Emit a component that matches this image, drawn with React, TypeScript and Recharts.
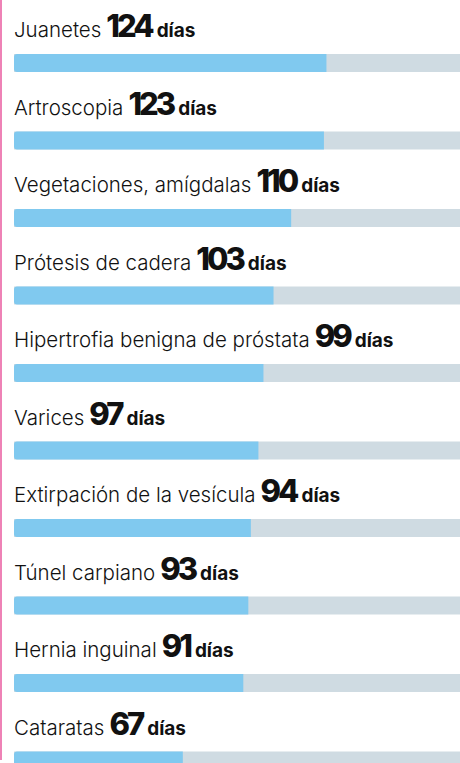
import React from 'react';
import { BarChart, Bar, XAxis, YAxis, LabelList } from 'recharts';

const categories = [
  'Juanetes',
  'Artroscopia',
  'Vegetaciones, amígdalas',
  'Prótesis de cadera',
  'Hipertrofia benigna de próstata',
  'Varices',
  'Extirpación de la vesícula',
  'Túnel carpiano',
  'Hernia inguinal',
  'Cataratas',
];

const days = [124, 123, 110, 103, 99, 97, 94, 93, 91, 67];

const unitLabel = 'días';

const data = categories.map((name, i) => ({ name, days: days[i] }));

const FONT = 'Inter, "Noto Sans", sans-serif';

const RowLabel = (props: any) => {
  const { x, y, index } = props;
  return (
    <text x={x} y={y - 17} fontFamily={FONT} fill="#111">
      <tspan fontSize={20.5} fontWeight={300}>{categories[index]}</tspan>
      <tspan dx={5} fontSize={31} fontWeight={800} letterSpacing={-3}>
        {days[index]}
      </tspan>
      <tspan dx={5} fontSize={19} fontWeight={700}>{unitLabel}</tspan>
    </text>
  );
};

const App: React.FC = () => {
  return (
    <div style={{ position: 'absolute', left: 0, top: 0, width: 460, height: 763, overflow: 'hidden', background: '#fff' }}>
      <div style={{ position: 'absolute', left: 0, top: 0, width: 2, height: 760, background: '#ee82b6' }} />
      <BarChart
        width={460}
        height={800}
        data={data}
        layout="vertical"
        margin={{ top: 24, right: 0, left: 14, bottom: 1 }}
      >
        <XAxis type="number" domain={[0, 177]} hide />
        <YAxis type="category" dataKey="name" hide />
        <Bar
          dataKey="days"
          fill="#80c9ef"
          barSize={18}
          radius={[3, 0, 0, 3]}
          background={{ fill: '#cfdbe2' }}
          isAnimationActive={false}
        >
          <LabelList dataKey="days" content={RowLabel} />
        </Bar>
      </BarChart>
    </div>
  );
};

export default App;
